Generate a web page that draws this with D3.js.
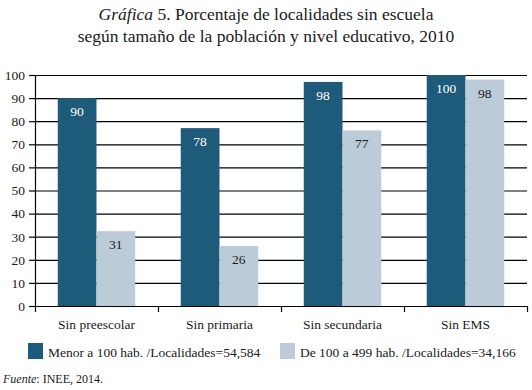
<!DOCTYPE html>
<html>
<head>
<meta charset="utf-8">
<script src="https://cdn.jsdelivr.net/npm/d3@7"></script>
<style>
  body { margin: 0; background: #fff; }
  svg, svg text { font-family: "Liberation Serif", "DejaVu Serif", serif; }
</style>
</head>
<body>
<div id="chart"></div>
<script>
// Data
const categories = ['Sin preescolar', 'Sin primaria', 'Sin secundaria', 'Sin EMS'];
const seriesNames = [
    'Menor a 100 hab. /Localidades=54,584',
    'De 100 a 499 hab. /Localidades=34,166'
];
const smallValues = [90, 77, 97, 100];       // bar heights, dark series
const mediumValues = [32.4, 26, 76, 98];     // bar heights, light series
const smallLabels = ['90', '78', '98', '100'];
const mediumLabels = ['31', '26', '77', '98'];
const yTicks = [0, 10, 20, 30, 40, 50, 60, 70, 80, 90, 100];
const colors = ['#1e5a7a', '#bbccd8'];

const FONT = 'Liberation Serif, DejaVu Serif, serif';
const width = 532, height = 390;
const margin = { top: 75, right: 5, bottom: 84, left: 35 };
const innerW = width - margin.left - margin.right;
const innerH = height - margin.top - margin.bottom;

const rows = categories.map((c, i) => ({
    category: c,
    values: [
        { key: 0, value: smallValues[i], label: smallLabels[i] },
        { key: 1, value: mediumValues[i], label: mediumLabels[i] }
    ]
}));

const svg = d3.select('#chart').append('svg')
    .attr('width', width)
    .attr('height', height)
    .attr('font-family', FONT);

// Title
const title = svg.append('text')
    .attr('x', width / 2)
    .attr('y', 20)
    .attr('text-anchor', 'middle')
    .attr('font-family', FONT)
    .attr('font-size', 17.5)
    .attr('fill', '#1a1a1a');
title.append('tspan').attr('font-style', 'italic').text('Gráfica');
title.append('tspan').text(' 5. Porcentaje de localidades sin escuela');
svg.append('text')
    .attr('x', width / 2)
    .attr('y', 42)
    .attr('text-anchor', 'middle')
    .attr('font-family', FONT)
    .attr('font-size', 17.5)
    .attr('fill', '#1a1a1a')
    .text('según tamaño de la población y nivel educativo, 2010');

const g = svg.append('g')
    .attr('transform', `translate(${margin.left}, ${margin.top})`);

const x0 = d3.scaleBand()
    .domain(categories)
    .range([0, innerW])
    .paddingInner(0)
    .paddingOuter(0);

const x1 = d3.scaleBand()
    .domain([0, 1])
    .range([0, x0.bandwidth() * 0.63]);

const groupOffset = (x0.bandwidth() - x1.range()[1]) / 2;

const y = d3.scaleLinear()
    .domain([0, 100])
    .range([innerH, 0]);

// Gridlines
g.append('g')
    .selectAll('line')
    .data(yTicks.filter(d => d > 0))
    .join('line')
    .attr('x1', 0)
    .attr('x2', innerW)
    .attr('y1', d => y(d) + 0.5)
    .attr('y2', d => y(d) + 0.5)
    .attr('stroke', '#000')
    .attr('stroke-width', 1.2);

// Bars
const groups = g.selectAll('.group')
    .data(rows)
    .join('g')
    .attr('class', 'group')
    .attr('transform', d => `translate(${x0(d.category) + groupOffset}, 0)`);

groups.selectAll('rect')
    .data(d => d.values)
    .join('rect')
    .attr('x', d => x1(d.key))
    .attr('y', d => y(d.value))
    .attr('width', x1.bandwidth())
    .attr('height', d => innerH - y(d.value))
    .attr('fill', d => colors[d.key]);

groups.selectAll('.val')
    .data(d => d.values)
    .join('text')
    .attr('class', 'val')
    .attr('x', d => x1(d.key) + x1.bandwidth() / 2)
    .attr('y', d => y(d.value) + 18)
    .attr('text-anchor', 'middle')
    .attr('font-family', FONT)
    .attr('font-size', 13.5)
    .attr('fill', d => d.key === 0 ? '#fff' : '#1a1a1a')
    .text(d => d.label);

// Y axis
const yAxis = g.append('g')
    .call(d3.axisLeft(y).tickValues(yTicks).tickSize(6).tickPadding(4))
    .attr('font-family', FONT)
    .attr('font-size', 13.5);
yAxis.select('.domain').attr('stroke', '#000').attr('stroke-width', 1.2);
yAxis.selectAll('.tick line').attr('stroke', '#000').attr('stroke-width', 1.2);
yAxis.selectAll('.tick text').attr('fill', '#1a1a1a');

// X axis
const xAxis = g.append('g')
    .attr('transform', `translate(0, ${innerH})`)
    .call(d3.axisBottom(x0).tickSize(0).tickPadding(13))
    .attr('font-family', FONT)
    .attr('font-size', 13.5);
xAxis.select('.domain').attr('stroke', '#000').attr('stroke-width', 1.2);
xAxis.selectAll('.tick text').attr('fill', '#1a1a1a');

// Category separator ticks
g.append('g')
    .selectAll('line')
    .data(categories.map(c => x0(c)).concat([innerW]))
    .join('line')
    .attr('x1', d => d + 0.5)
    .attr('x2', d => d + 0.5)
    .attr('y1', innerH)
    .attr('y2', innerH + 6)
    .attr('stroke', '#000')
    .attr('stroke-width', 1.2);

// Legend
const legendX = [28, 280];
const legend = svg.append('g')
    .selectAll('g')
    .data(seriesNames)
    .join('g')
    .attr('transform', (d, i) => `translate(${legendX[i]}, 343)`);

legend.append('rect')
    .attr('width', 15)
    .attr('height', 16)
    .attr('fill', (d, i) => colors[i]);

legend.append('text')
    .attr('x', 20)
    .attr('y', 13.5)
    .attr('font-family', FONT)
    .attr('font-size', 13.5)
    .attr('fill', '#1a1a1a')
    .text(d => d);

// Source
const source = svg.append('text')
    .attr('x', 3)
    .attr('y', 383)
    .attr('font-family', FONT)
    .attr('font-size', 12)
    .attr('fill', '#1a1a1a');
source.append('tspan').attr('font-style', 'italic').text('Fuente');
source.append('tspan').text(': INEE, 2014.');
</script>
</body>
</html>
